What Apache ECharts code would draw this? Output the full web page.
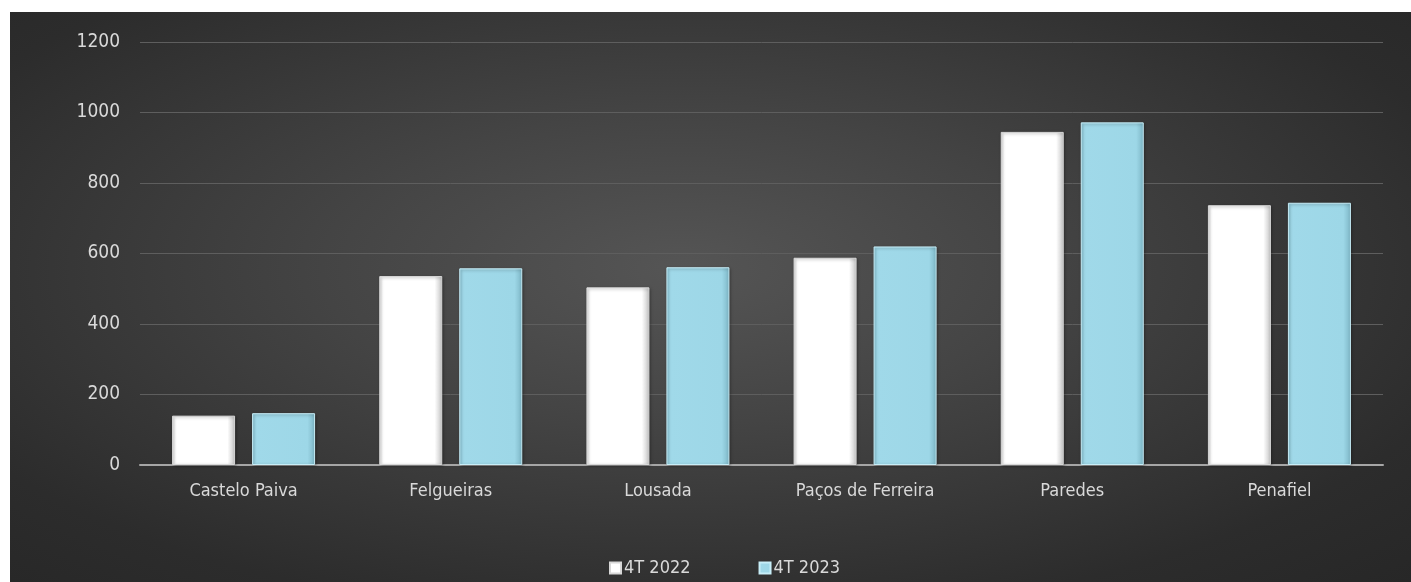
<!DOCTYPE html>
<html>
<head>
<meta charset="utf-8">
<script src="https://cdn.jsdelivr.net/npm/echarts@6/dist/echarts.min.js"></script>
<style>
  html, body { margin: 0; padding: 0; background: #ffffff; width: 1411px; height: 582px; overflow: hidden; }
  #chart { position: absolute; left: 10px; top: 12px; width: 1401px; height: 570px;
    background: radial-gradient(ellipse at 48% 45%, #555555 0%, #444444 35%, #2c2c2c 80%, #272727 100%); }
</style>
</head>
<body>
<div id="chart"></div>
<script>
const categories = ['Castelo Paiva', 'Felgueiras', 'Lousada', 'Paços de Ferreira', 'Paredes', 'Penafiel'];
const seriesNames = ['4T 2022', '4T 2023'];
const values2022 = [140, 536, 504, 588, 945, 737];
const values2023 = [147, 558, 561, 620, 972, 744];
const yTicks = { min: 0, max: 1200, interval: 200 };

const FONT = '"Liberation Sans Narrow", "Arial Narrow", "DejaVu Sans Condensed", "Liberation Sans", sans-serif';

const whiteFill = new echarts.graphic.LinearGradient(0, 0, 1, 0, [
  { offset: 0, color: '#e6e6e6' },
  { offset: 0.06, color: '#ffffff' },
  { offset: 0.88, color: '#ffffff' },
  { offset: 1, color: '#c4c4c4' }
]);
const blueFill = new echarts.graphic.LinearGradient(0, 0, 1, 0, [
  { offset: 0, color: '#8fcbdc' },
  { offset: 0.06, color: '#a0d9e9' },
  { offset: 0.88, color: '#9dd7e7' },
  { offset: 1, color: '#7db6c6' }
]);

const chart = echarts.init(document.getElementById('chart'), null, { renderer: 'canvas' });
chart.setOption({
  backgroundColor: 'transparent',
  animation: false,
  textStyle: { fontFamily: FONT },
  grid: { left: 130, top: 30, width: 1243, height: 423, containLabel: false },
  legend: {
    data: seriesNames,
    top: 542,
    left: 594,
    itemWidth: 11,
    itemHeight: 11,
    itemGap: 68,
    icon: 'rect',
    textStyle: { color: '#d9d9d9', fontSize: 18, fontFamily: FONT, padding: [0, 0, 0, -2] }
  },
  xAxis: {
    type: 'category',
    data: categories,
    axisLine: { show: true, lineStyle: { color: '#a6a6a6', width: 2 } },
    axisTick: { show: false },
    axisLabel: { color: '#d9d9d9', fontSize: 18, margin: 17, interval: 0, fontFamily: FONT }
  },
  yAxis: {
    type: 'value',
    min: yTicks.min,
    max: yTicks.max,
    interval: yTicks.interval,
    axisLine: { show: false },
    axisTick: { show: false },
    axisLabel: { color: '#d9d9d9', fontSize: 19, margin: 20, fontFamily: FONT,
      formatter: function (v) { return String(v); } },
    splitLine: { lineStyle: { color: '#5e5e5e', width: 1 } }
  },
  series: [
    {
      name: seriesNames[0],
      type: 'bar',
      data: values2022,
      barWidth: 63,
      barGap: '27%',
      itemStyle: { color: whiteFill, borderColor: '#d8d8d8', borderWidth: 1,
        shadowColor: 'rgba(0,0,0,0.35)', shadowBlur: 3, shadowOffsetX: 1, shadowOffsetY: 1 }
    },
    {
      name: seriesNames[1],
      type: 'bar',
      data: values2023,
      barWidth: 63,
      itemStyle: { color: blueFill, borderColor: '#c7eef8', borderWidth: 1,
        shadowColor: 'rgba(0,0,0,0.35)', shadowBlur: 3, shadowOffsetX: 1, shadowOffsetY: 1 }
    }
  ]
});
</script>
</body>
</html>
